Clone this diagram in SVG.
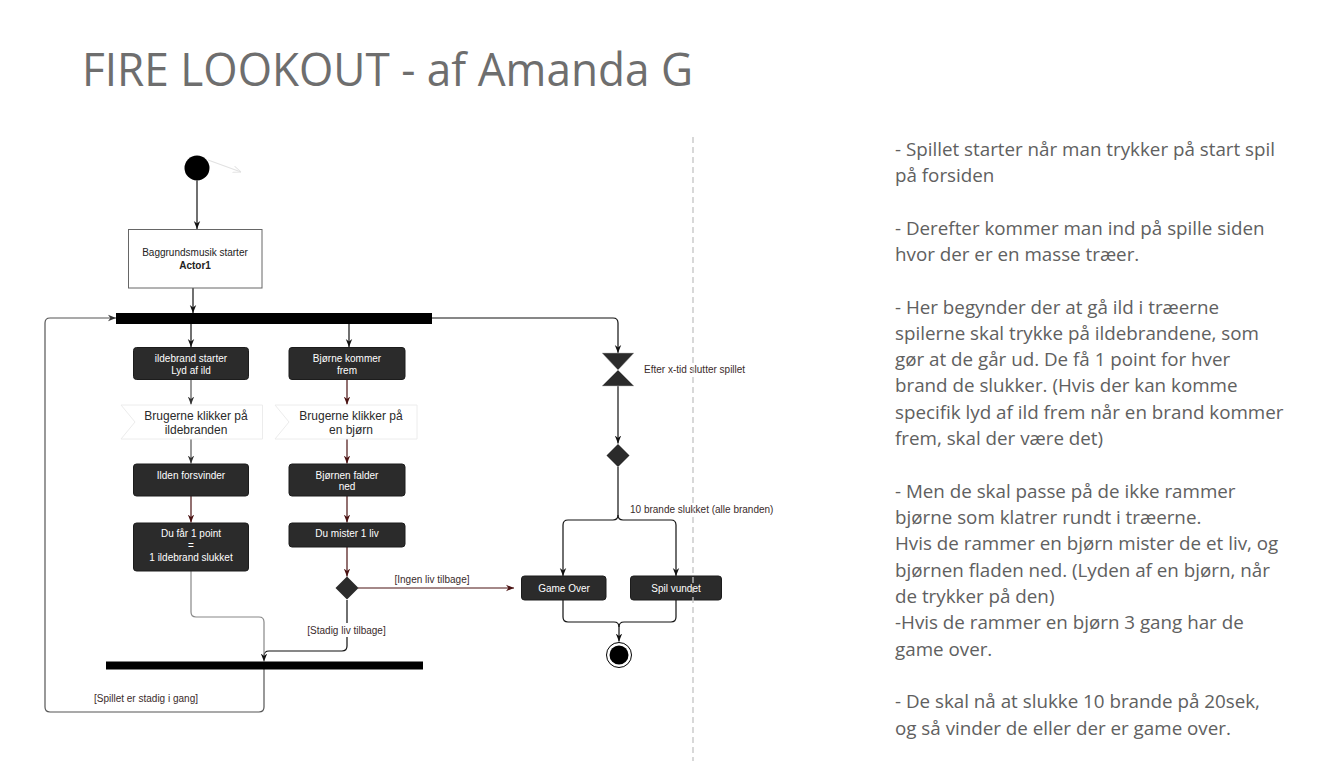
<svg xmlns="http://www.w3.org/2000/svg" width="1332" height="761" viewBox="0 0 1332 761">
<style>
.title{font-family:"Open Sans","Noto Sans",sans-serif;font-size:46px;fill:#6e6e6e}
.note{font-family:"Open Sans","Noto Sans",sans-serif;font-size:18.8px;fill:#606060}
.sm{font-family:"Liberation Sans",Arial,sans-serif;font-size:10px}
.wt{fill:#ffffff}
.dk{fill:#222222}
.lbl{fill:#3a2b2b}
.big{font-family:"Liberation Sans",Arial,sans-serif;font-size:12px;fill:#2a2a2a}
.box{fill:#2b2b2b;stroke:#1c1c1c;stroke-width:1}
.step{fill:#ffffff;stroke:#ececec;stroke-width:1}
.c{fill:none;stroke-width:1.2}
.k{stroke:#111111}
.g{stroke:#555555}
.r{stroke:#4a1212}
.lg{stroke:#888888}
</style>
<defs>
<marker id="ak" viewBox="0 0 10 10" refX="10" refY="5" markerWidth="8" markerHeight="8" orient="auto" markerUnits="userSpaceOnUse"><path d="M0,1 L10,5 L0,9 L3,5 z" fill="#111111"/></marker>
<marker id="ag" viewBox="0 0 10 10" refX="10" refY="5" markerWidth="8" markerHeight="8" orient="auto" markerUnits="userSpaceOnUse"><path d="M0,1 L10,5 L0,9 L3,5 z" fill="#333333"/></marker>
<marker id="ar" viewBox="0 0 10 10" refX="10" refY="5" markerWidth="8" markerHeight="8" orient="auto" markerUnits="userSpaceOnUse"><path d="M0,1 L10,5 L0,9 L3,5 z" fill="#4a1212"/></marker>
<marker id="af" viewBox="0 0 10 10" refX="10" refY="5" markerWidth="8" markerHeight="8" orient="auto" markerUnits="userSpaceOnUse"><path d="M0,1 L10,5 L0,9" fill="none" stroke="#e2e2e2" stroke-width="1.2"/></marker>
</defs>
<rect width="1332" height="761" fill="#ffffff"/>

<text class="title" x="82" y="86" textLength="611" lengthAdjust="spacingAndGlyphs">FIRE LOOKOUT - af Amanda G</text>

<g id="notes" class="note">
<text x="895" y="155.5">- Spillet starter når man trykker på start spil</text>
<text x="895" y="181.8">på forsiden</text>
<text x="895" y="234.5">- Derefter kommer man ind på spille siden</text>
<text x="895" y="260.8">hvor der er en masse træer.</text>
<text x="895" y="313.5">- Her begynder der at gå ild i træerne</text>
<text x="895" y="339.8">spilerne skal trykke på ildebrandene, som</text>
<text x="895" y="366.1">gør at de går ud. De få 1 point for hver</text>
<text x="895" y="392.4">brand de slukker. (Hvis der kan komme</text>
<text x="895" y="418.7">specifik lyd af ild frem når en brand kommer</text>
<text x="895" y="445">frem, skal der være det)</text>
<text x="895" y="497.7">- Men de skal passe på de ikke rammer</text>
<text x="895" y="524">bjørne som klatrer rundt i træerne.</text>
<text x="895" y="550.3">Hvis de rammer en bjørn mister de et liv, og</text>
<text x="895" y="576.6">bjørnen fladen ned. (Lyden af en bjørn, når</text>
<text x="895" y="602.9">de trykker på den)</text>
<text x="895" y="629.2">-Hvis de rammer en bjørn 3 gang har de</text>
<text x="895" y="655.5">game over.</text>
<text x="895" y="708.2">- De skal nå at slukke 10 brande på 20sek,</text>
<text x="895" y="734.5">og så vinder de eller der er game over.</text>
</g>

<g id="connectors">
<path class="c" d="M208,160 L241,172" stroke="#e2e2e2" marker-end="url(#af)"/>
<path class="c k" d="M197,180.5 V229" marker-end="url(#ak)"/>
<path class="c k" d="M193,288 V313" marker-end="url(#ak)"/>
<path class="c g" d="M264,669 V707 Q264,712 259,712 H50 Q45,712 45,707 V323 Q45,318 50,318 H116" marker-end="url(#ag)"/>
<path class="c k" d="M191,324 V347" marker-end="url(#ak)"/>
<path class="c k" d="M349,324 V347" marker-end="url(#ak)"/>
<path class="c k" d="M432,318 H613 Q618,318 618,323 V353" marker-end="url(#ak)"/>
<path class="c g" d="M191,380 V404.5" marker-end="url(#ag)"/>
<path class="c g" d="M191,439 V463.5" marker-end="url(#ag)"/>
<path class="c r" d="M191,496 V522.5" marker-end="url(#ar)"/>
<path class="c k" d="M347,600 V646 Q347,651 342,651 H269 Q264,651 264,656"/>
<path class="c lg" d="M191,571 V612 Q191,617 196,617 H259 Q264,617 264,622 V661.5" marker-end="url(#ak)"/>
<path class="c r" d="M347,380 V404.5" marker-end="url(#ar)"/>
<path class="c r" d="M347,439 V463.5" marker-end="url(#ar)"/>
<path class="c r" d="M347,496 V522.5" marker-end="url(#ar)"/>
<path class="c r" d="M347,547 V576.5" marker-end="url(#ar)"/>
<path class="c r" d="M358,588 H514" marker-end="url(#ar)"/>
<path class="c k" d="M618,386 V443.5" marker-end="url(#ak)"/>
<path class="c k" d="M618,467 V515 Q618,520 613,520 H568 Q563,520 563,525 V576" marker-end="url(#ak)"/>
<path class="c k" d="M618,515 Q618,520 623,520 H671 Q676,520 676,525 V576" marker-end="url(#ak)"/>
<path class="c k" d="M563,600 V617 Q563,622 568,622 H614 Q619,622 619,627 V641.5" marker-end="url(#ak)"/>
<path class="c k" d="M676,600 V617 Q676,622 671,622 H624 Q619,622 619,627"/>
<rect x="305" y="623" width="83" height="14" fill="#ffffff"/>
<text class="sm lbl" x="432" y="582.5" text-anchor="middle">[Ingen liv tilbage]</text>
<text class="sm lbl" x="346.5" y="633.5" text-anchor="middle">[Stadig liv tilbage]</text>
<text class="sm lbl" x="146" y="701.5" text-anchor="middle">[Spillet er stadig i gang]</text>
<text class="sm lbl" x="644" y="372.5">Efter x-tid slutter spillet</text>
<text class="sm lbl" x="630" y="512.5">10 brande slukket (alle branden)</text>
</g>

<g id="start"><circle cx="197" cy="168" r="12.5" fill="#000000"/></g>

<g id="baggrund">
<rect x="128.5" y="229.5" width="133.5" height="58.5" fill="#ffffff" stroke="#666666" stroke-width="1"/>
<text class="sm dk" x="195" y="256" text-anchor="middle">Baggrundsmusik starter</text>
<text class="sm dk" x="195" y="269" text-anchor="middle" font-weight="bold">Actor1</text>
</g>

<g id="fork"><rect x="116" y="313" width="316" height="11" fill="#000000"/></g>

<g id="ildebrand">
<rect class="box" x="133.5" y="347.5" width="115" height="32" rx="3"/>
<text class="sm wt" x="191" y="361.5" text-anchor="middle">ildebrand starter</text>
<text class="sm wt" x="191" y="373.5" text-anchor="middle">Lyd af ild</text>
</g>

<g id="brugerne1">
<path class="step" d="M121,405 H262.5 V439 H121 L135,422 Z"/>
<text class="big" x="196" y="419.5" text-anchor="middle">Brugerne klikker på</text>
<text class="big" x="196" y="433.5" text-anchor="middle">ildebranden</text>
</g>

<g id="ilden">
<rect class="box" x="133.5" y="464" width="115" height="32" rx="3"/>
<text class="sm wt" x="191" y="479" text-anchor="middle">Ilden forsvinder</text>
</g>

<g id="dufaar">
<rect class="box" x="133.5" y="523" width="115" height="48" rx="3"/>
<text class="sm wt" x="191" y="536.5" text-anchor="middle">Du får 1 point</text>
<text class="sm wt" x="191" y="548.5" text-anchor="middle">=</text>
<text class="sm wt" x="191" y="560.5" text-anchor="middle">1 ildebrand slukket</text>
</g>

<g id="bjorne">
<rect class="box" x="289" y="347.5" width="116" height="32" rx="3"/>
<text class="sm wt" x="347" y="361.5" text-anchor="middle">Bjørne kommer</text>
<text class="sm wt" x="347" y="373.5" text-anchor="middle">frem</text>
</g>

<g id="brugerne2">
<path class="step" d="M275,405 H417 V439 H275 L289,422 Z"/>
<text class="big" x="351" y="419.5" text-anchor="middle">Brugerne klikker på</text>
<text class="big" x="351" y="433.5" text-anchor="middle">en bjørn</text>
</g>

<g id="bjornen">
<rect class="box" x="289" y="464" width="116" height="32" rx="3"/>
<text class="sm wt" x="347" y="479" text-anchor="middle">Bjørnen falder</text>
<text class="sm wt" x="347" y="490" text-anchor="middle">ned</text>
</g>

<g id="dumister">
<rect class="box" x="289" y="523" width="116" height="24" rx="3"/>
<text class="sm wt" x="347" y="537" text-anchor="middle">Du mister 1 liv</text>
</g>

<g id="decision1"><polygon points="347,576.5 358.5,588 347,599.5 335.5,588" fill="#2b2b2b"/></g>

<g id="join"><rect x="106" y="661.5" width="317" height="8" fill="#000000"/></g>

<g id="timer"><polygon points="602,353 634,353 618,370 602,386 634,386 618,370" fill="#2b2b2b" stroke="#bbbbbb" stroke-width="0.5"/></g>

<g id="decision2"><polygon points="618,444 629.5,455.5 618,467 606.5,455.5" fill="#2b2b2b"/></g>

<g id="gameover">
<rect class="box" x="521.5" y="576" width="84.5" height="24" rx="3"/>
<text class="sm wt" x="564" y="591.5" text-anchor="middle">Game Over</text>
</g>

<g id="spilvundet">
<rect class="box" x="630.5" y="576" width="91" height="24" rx="3"/>
<text class="sm wt" x="676" y="591.5" text-anchor="middle">Spil vundet</text>
</g>

<g id="end">
<circle cx="619" cy="655" r="12.5" fill="#ffffff" stroke="#000000" stroke-width="1"/>
<circle cx="619" cy="655" r="9.5" fill="#000000"/>
</g>

<line x1="693" y1="137" x2="693" y2="761" stroke="#c4c4c4" stroke-width="1.3" stroke-dasharray="6,4"/>
</svg>
